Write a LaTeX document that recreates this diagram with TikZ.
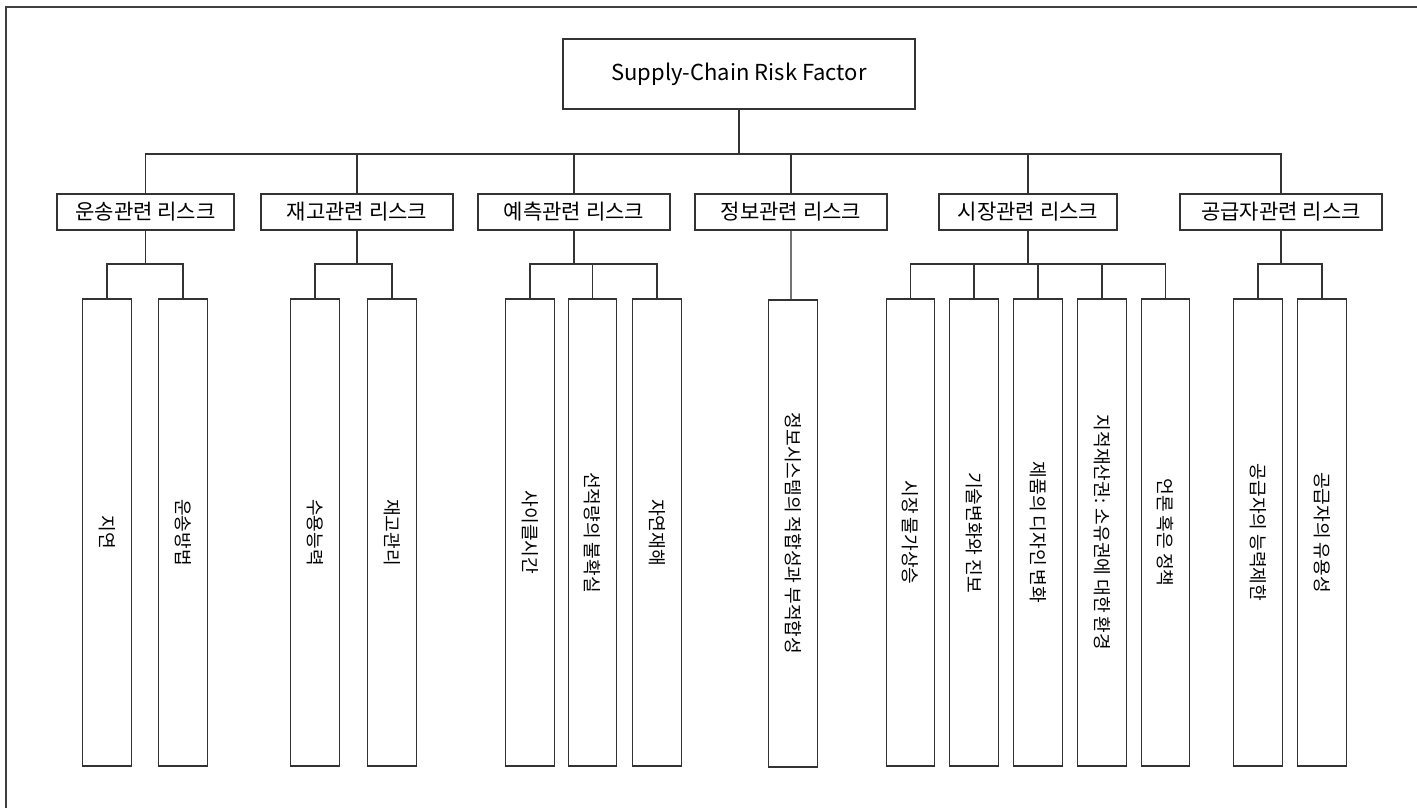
\documentclass[tikz,border=0pt]{standalone}
\usepackage{fontspec}
\setmainfont{Noto Sans CJK KR}
\begin{document}
\begin{tikzpicture}[x=0.75pt,y=-0.75pt,
  box/.style={draw=black!80, line width=1pt, fill=white, inner sep=0pt, align=center},
  topbox/.style={box, minimum width=264pt, minimum height=52.5pt, font=\fontsize{16.5}{19}\selectfont},
  catbox/.style={box, minimum height=27pt, font=\fontsize{15.8}{18}\selectfont},
  leafbox/.style={box, minimum width=36.4pt, minimum height=350.25pt, font=\fontsize{13.6}{16}\selectfont},
  conn/.style={draw=black!80, line width=1.1pt},
  infoconn/.style={draw=black!55, line width=1.1pt},
]
\useasboundingbox (0,0) rectangle (1417,808);
\fill[white] (0,0) rectangle (1417,808);
\draw[black!75, line width=1.1pt] (1417,7) -- (6,7) -- (6,808);

\coordinate (ybar) at (0,154);
\coordinate (gbar) at (0,264);

% root
\node[topbox] (top) at (739,74) {Supply-Chain Risk Factor};

% categories
\node[catbox, minimum width=132.75pt] (b1) at (145.5,212) {운송관련 리스크};
\node[catbox, minimum width=144pt]    (b2) at (357,212)   {재고관련 리스크};
\node[catbox, minimum width=144pt]    (b3) at (574,212)   {예측관련 리스크};
\node[catbox, minimum width=144pt]    (b4) at (791,212)   {정보관련 리스크};
\node[catbox, minimum width=133.5pt]  (b5) at (1028,212)  {시장관련 리스크};
\node[catbox, minimum width=151.5pt]  (b6) at (1281,212)  {공급자관련 리스크};

% leaves
\node[leafbox] (l11) at (107,532.5)  {\rotatebox{-90}{지연}};
\node[leafbox] (l12) at (183,532.5)  {\rotatebox{-90}{운송방법}};
\node[leafbox] (l21) at (315,532.5)  {\rotatebox{-90}{수용능력}};
\node[leafbox] (l22) at (392,532.5)  {\rotatebox{-90}{재고관리}};
\node[leafbox] (l31) at (530,532.5)  {\rotatebox{-90}{사이클시간}};
\node[leafbox] (l32) at (592.5,532.5){\rotatebox{-90}{선적량의 불확실}};
\node[leafbox] (l33) at (657,532.5)  {\rotatebox{-90}{자연재해}};
\node[leafbox] (l41) at (793,533.5)  {\rotatebox{-90}{정보시스템의 적합성과 부적합성}};
\node[leafbox] (l51) at (910.5,532.5) {\rotatebox{-90}{시장 물가상승}};
\node[leafbox] (l52) at (974,532.5)  {\rotatebox{-90}{기술변화와 진보}};
\node[leafbox] (l53) at (1038,532.5) {\rotatebox{-90}{제품의 디자인 변화}};
\node[leafbox] (l54) at (1102,532.5) {\rotatebox{-90}{지적재산권: 소유권에 대한 환경}};
\node[leafbox] (l55) at (1165.5,532.5) {\rotatebox{-90}{언론 혹은 정책}};
\node[leafbox] (l61) at (1258,532.5) {\rotatebox{-90}{공급자의 능력제한}};
\node[leafbox] (l62) at (1322,532.5) {\rotatebox{-90}{공급자의 유용성}};

% root to categories
\foreach \b in {b1,b2,b3,b4,b5,b6}
  \draw[conn] (top.south) -- (top.south |- ybar) -| (\b.north);

% categories to leaves
\foreach \b/\l in {b1/l11,b1/l12,b2/l21,b2/l22,b3/l31,b3/l32,b3/l33,b5/l51,b5/l52,b5/l53,b5/l54,b5/l55,b6/l61,b6/l62}
  \draw[conn] (\b.south) -- (\b.south |- gbar) -| (\l.north);
\draw[infoconn] (b4.south) -- (b4.south |- l41.north);
\end{tikzpicture}
\end{document}
